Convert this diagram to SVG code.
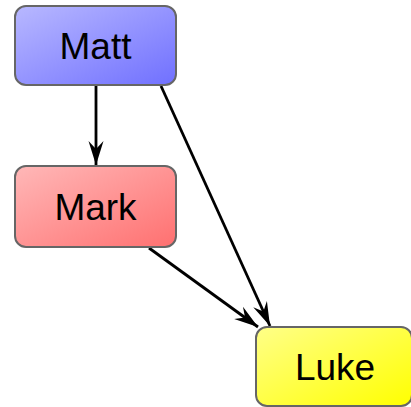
<svg xmlns="http://www.w3.org/2000/svg" width="411" height="407" viewBox="0 0 411 407">
<style>
.box{stroke:#666;stroke-width:2}
.lbl{font-family:"Liberation Sans",Arial,sans-serif;font-size:37px;fill:#000;text-anchor:middle}
.edge{stroke:#000;stroke-width:2.8;fill:none;marker-end:url(#arr)}
</style>
<defs>
<linearGradient id="gBlue" x1="0" y1="0" x2="1" y2="1"><stop offset="0" stop-color="#b8b8ff"/><stop offset="1" stop-color="#7070ff"/></linearGradient>
<linearGradient id="gRed" x1="0" y1="0" x2="1" y2="1"><stop offset="0" stop-color="#ffb8b8"/><stop offset="1" stop-color="#ff7070"/></linearGradient>
<linearGradient id="gYel" x1="0" y1="0" x2="1" y2="1"><stop offset="0" stop-color="#ffff88"/><stop offset="1" stop-color="#ffff00"/></linearGradient>
<marker id="arr" markerUnits="userSpaceOnUse" markerWidth="28" markerHeight="18" viewBox="0 -9 26 18" refX="24" refY="0" orient="auto">
<path d="M0,-7.5 L24,0 L0,7.5 L8,0 z" fill="#000"/>
</marker>
</defs>
<g id="connectors">
<line class="edge" x1="96" y1="86" x2="96" y2="165"/>
<line class="edge" x1="161" y1="86" x2="270" y2="326"/>
<line class="edge" x1="149" y1="248" x2="258" y2="327"/>
</g>
<g id="matt"><rect class="box" x="15" y="6" width="161" height="79" rx="11" fill="url(#gBlue)"/><text class="lbl" x="95.5" y="59">Matt</text></g>
<g id="mark"><rect class="box" x="15" y="166" width="161" height="81" rx="11" fill="url(#gRed)"/><text class="lbl" x="95.5" y="220">Mark</text></g>
<g id="luke"><rect class="box" x="256" y="327" width="156" height="79" rx="11" fill="url(#gYel)"/><text class="lbl" x="335" y="380">Luke</text></g>
</svg>
